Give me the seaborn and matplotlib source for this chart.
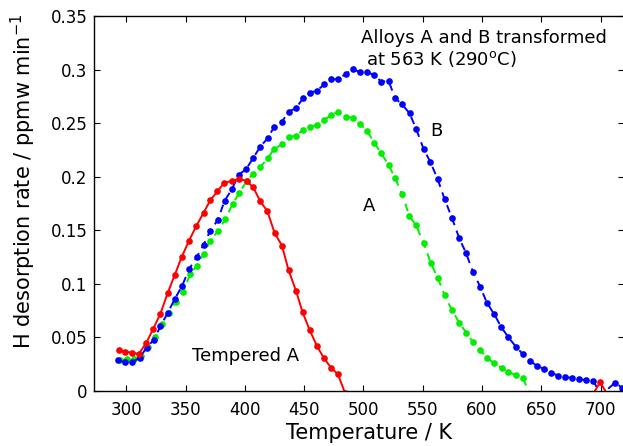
import numpy as np
import pandas as pd
import matplotlib
matplotlib.use("Agg")
import matplotlib.pyplot as plt
import seaborn as sns

# ---- data ----
red_T = [293.5, 299.2, 304.8, 310.5, 316.9, 322.8, 328.8, 334.8, 340.8, 346.6,
         352.9, 359.0, 365.2, 370.8, 376.7, 382.6, 389.0, 395.3, 401.6, 407.1,
         413.0, 418.9, 425.0, 431.3, 436.8, 443.1, 448.7, 454.6, 460.8, 466.4,
         472.6, 478.5, 484.5]
red_rate = [0.0380, 0.0366, 0.0359, 0.0345, 0.0451, 0.0583, 0.0723, 0.0912, 0.1082, 0.1248,
            0.1403, 0.1540, 0.1663, 0.1780, 0.1862, 0.1944, 0.1960, 0.1980, 0.1960, 0.1900,
            0.1770, 0.1680, 0.1478, 0.1356, 0.1129, 0.0936, 0.0734, 0.0569, 0.0420, 0.0311,
            0.0218, 0.0156, -0.0020]
red_tail_T = [693.5, 699.6, 705.7]
red_tail_rate = [-0.0030, 0.0081, -0.0030]

blue_T = [292.8, 299.2, 305.1, 311.2, 317.1, 323.0, 328.8, 334.8, 341.1, 347.0,
          353.1, 359.4, 365.2, 370.8, 377.0, 382.9, 389.1, 394.7, 401.0, 406.8,
          413.0, 419.1, 424.8, 431.3, 436.8, 443.1, 449.0, 454.6, 460.8, 467.0,
          472.6, 478.5, 484.9, 491.1, 496.7, 503.0, 509.1, 515.0, 521.2, 526.8,
          532.5, 538.9, 544.5, 550.7, 556.3, 562.5, 568.5, 574.6, 580.8, 586.4,
          592.3, 598.5, 604.1, 610.3, 616.2, 622.3, 628.6, 634.5, 640.1, 646.3,
          652.4, 658.3, 664.2, 670.2, 676.1, 682.0, 687.9, 694.0, 700.0, 712.3,
          718.2]
blue_rate = [0.0285, 0.0270, 0.0270, 0.0310, 0.0404, 0.0476, 0.0603, 0.0728, 0.0863, 0.0980,
             0.1140, 0.1250, 0.1365, 0.1496, 0.1593, 0.1776, 0.1883, 0.2019, 0.2069, 0.2172,
             0.2280, 0.2358, 0.2467, 0.2513, 0.2607, 0.2639, 0.2732, 0.2784, 0.2803, 0.2862,
             0.2909, 0.2909, 0.2959, 0.3003, 0.2977, 0.2977, 0.2949, 0.2887, 0.2893, 0.2732,
             0.2676, 0.2592, 0.2445, 0.2259, 0.2140, 0.1980, 0.1789, 0.1617, 0.1425, 0.1291,
             0.1113, 0.0973, 0.0824, 0.0716, 0.0597, 0.0501, 0.0413, 0.0343, 0.0283, 0.0236,
             0.0205, 0.0171, 0.0143, 0.0131, 0.0121, 0.0109, 0.0103, 0.0096, -0.0040, 0.0078,
             0.0030]

green_T = [294.9, 300.6, 306.2, 312.4, 318.0, 324.5, 330.1, 335.8, 341.7, 347.8,
           354.0, 359.3, 365.2, 370.8, 377.3, 383.5, 389.6, 395.3, 401.8, 406.8,
           413.0, 419.1, 424.8, 431.3, 436.8, 443.1, 449.0, 454.6, 460.8, 467.0,
           472.6, 478.5, 484.9, 491.1, 496.7, 503.0, 509.1, 515.0, 521.2, 526.8,
           532.5, 538.8, 544.4, 550.7, 556.9, 562.8, 568.4, 574.6, 580.8, 586.7,
           592.3, 598.5, 604.6, 610.5, 616.7, 622.3, 628.6, 634.5, 640.2]
green_rate = [0.0289, 0.0296, 0.0296, 0.0327, 0.0413, 0.0500, 0.0625, 0.0730, 0.0830, 0.0927,
              0.1092, 0.1167, 0.1276, 0.1403, 0.1493, 0.1605, 0.1743, 0.1851, 0.1963, 0.2025,
              0.2088, 0.2172, 0.2259, 0.2303, 0.2368, 0.2383, 0.2436, 0.2467, 0.2483, 0.2529,
              0.2576, 0.2607, 0.2560, 0.2551, 0.2492, 0.2430, 0.2317, 0.2219, 0.2109, 0.1985,
              0.1839, 0.1633, 0.1546, 0.1382, 0.1192, 0.1052, 0.0896, 0.0756, 0.0637, 0.0544,
              0.0457, 0.0380, 0.0305, 0.0259, 0.0212, 0.0175, 0.0149, 0.0124, -0.0030]

x_ticks = [300, 350, 400, 450, 500, 550, 600, 650, 700]
y_ticks = [0, 0.05, 0.1, 0.15, 0.2, 0.25, 0.3, 0.35]
y_tick_labels = ["0", "0.05", "0.1", "0.15", "0.2", "0.25", "0.3", "0.35"]

# ---- style ----
sns.set_style("ticks")
plt.rcParams['font.family'] = ['DejaVu Sans']
plt.rcParams['mathtext.fontset'] = 'dejavusans'
plt.rcParams['text.color'] = 'black'
plt.rcParams['axes.labelcolor'] = 'black'
plt.rcParams['xtick.color'] = 'black'
plt.rcParams['ytick.color'] = 'black'

fig = plt.figure(figsize=(6.23, 4.46), dpi=100)
ax = fig.add_axes([94.3 / 623, 55 / 446, 530 / 623, 375 / 446])

ms = 4.8
lw = 1.4
sns.lineplot(x=green_T, y=green_rate, ax=ax, color="#00ee00", marker="o", markersize=ms,
             markeredgewidth=0, linestyle=(0, (4, 3)), linewidth=lw, sort=False, estimator=None)
sns.lineplot(x=blue_T, y=blue_rate, ax=ax, color="#0000ff", marker="o", markersize=ms,
             markeredgewidth=0, linestyle=(0, (4, 3)), linewidth=lw, sort=False, estimator=None)
sns.lineplot(x=red_T, y=red_rate, ax=ax, color="#ff0000", marker="o", markersize=ms,
             markeredgewidth=0, linestyle="-", linewidth=lw, sort=False, estimator=None)
sns.lineplot(x=red_tail_T, y=red_tail_rate, ax=ax, color="#ff0000", marker="o", markersize=ms,
             markeredgewidth=0, linestyle="-", linewidth=lw, sort=False, estimator=None)

ax.set_xlim(273, 720)
ax.set_ylim(0, 0.35)
ax.set_xticks(x_ticks)
ax.set_xticklabels([str(t) for t in x_ticks])
ax.set_yticks(y_ticks)
ax.set_yticklabels(y_tick_labels)
ax.tick_params(direction="in", top=True, right=True, length=4, width=0.8,
               labelsize=12, colors="black")
ax.tick_params(axis="x", pad=7)
ax.tick_params(axis="y", pad=5)
for s in ax.spines.values():
    s.set_linewidth(1.0)
    s.set_color("black")
    s.set_visible(True)

ax.set_xlabel("Temperature / K", fontsize=15, color="black")
ax.set_ylabel(r"H desorption rate / ppmw min$^{-1}$", fontsize=15, color="black")
ax.xaxis.set_label_coords(0.518, -0.085)
ax.yaxis.set_label_coords(-0.106, 0.56)

ax.text(497.9, 0.3245, "Alloys A and B transformed", fontsize=13, color="black")
ax.text(502.4, 0.3043, r"at 563 K (290$^{\mathrm{o}}$C)", fontsize=13, color="black")
ax.text(556.3, 0.238, "B", fontsize=13, color="black")
ax.text(499.2, 0.1683, "A", fontsize=13, color="black")
ax.text(355.4, 0.0283, "Tempered A", fontsize=13, color="black")

fig.savefig("out.png", dpi=100)
